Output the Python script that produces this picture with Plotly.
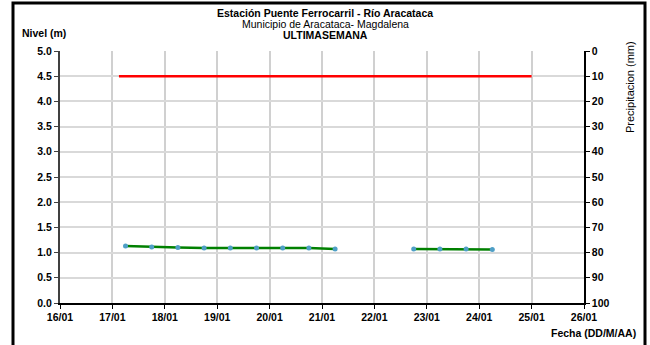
import plotly.graph_objects as go

# Data
nivel_fechas = ["2024-01-17 06:00", "2024-01-17 18:00", "2024-01-18 06:00", "2024-01-18 18:00",
                "2024-01-19 06:00", "2024-01-19 18:00", "2024-01-20 06:00", "2024-01-20 18:00",
                "2024-01-21 06:00", "2024-01-22 00:00", "2024-01-22 18:00", "2024-01-23 06:00",
                "2024-01-23 18:00", "2024-01-24 06:00"]
nivel_m = [1.13, 1.11, 1.10, 1.09, 1.09, 1.09, 1.09, 1.09, 1.07, None, 1.07, 1.07, 1.07, 1.06]

alerta_fechas = ["2024-01-17 03:00", "2024-01-25 00:00"]
alerta_m = [4.5, 4.5]

precip_fechas = []
precip_mm = []

x_ticks = ["2024-01-%02d" % d for d in range(16, 27)]
x_ticklabels = ["%02d/01" % d for d in range(16, 27)]

FONT = "Liberation Sans, Arial, sans-serif"

L, T, PW, PH = 60, 51, 524, 252

def px(x):
    return (x - 60) / PW

def py(y):
    return (303 - y) / PH

fig = go.Figure()
fig.add_trace(go.Scatter(x=alerta_fechas, y=alerta_m, mode="lines",
                         line=dict(color="#ff0000", width=2.5), showlegend=False))
fig.add_trace(go.Scatter(x=nivel_fechas, y=nivel_m, mode="lines+markers",
                         line=dict(color="#008000", width=2.5),
                         marker=dict(color="#4f9fc6", size=5),
                         connectgaps=False, showlegend=False))
fig.add_trace(go.Bar(x=precip_fechas, y=precip_mm, yaxis="y2",
                     marker_color="#4f81bd", showlegend=False))

tf = dict(family=FONT, size=10.5, color="black", weight="bold")


def note(text, x, y, size=10.5, xanchor="center", angle=0):
    return dict(text=text, x=px(x), y=py(y), xref="paper", yref="paper",
                xanchor=xanchor, yanchor="middle", textangle=angle,
                showarrow=False, font=dict(family=FONT, size=size, color="black"))


fig.update_layout(
    width=650, height=345,
    margin=dict(l=L, r=650 - L - PW, t=T, b=345 - T - PH, autoexpand=False),
    paper_bgcolor="white", plot_bgcolor="white",
    font=dict(family=FONT, size=10, color="black"),
    xaxis=dict(type="date", range=["2024-01-16", "2024-01-26"],
               tickvals=x_ticks, ticktext=x_ticklabels,
               showgrid=True, gridcolor="#d0d0d0", gridwidth=1.5,
               showline=True, linecolor="black", linewidth=1.5,
               ticks="outside", ticklen=4, tickcolor="black",
               tickfont=tf, zeroline=False),
    yaxis=dict(range=[0, 5], tickvals=[0, 0.5, 1, 1.5, 2, 2.5, 3, 3.5, 4, 4.5, 5],
               tickformat=".1f",
               showgrid=True, gridcolor="#d9d9d9", gridwidth=1.5,
               showline=True, linecolor="#404040", linewidth=2,
               ticks="outside", ticklen=4, tickcolor="#404040",
               tickfont=tf, zeroline=False),
    yaxis2=dict(range=[100, 0], overlaying="y", side="right",
                tickvals=list(range(0, 101, 10)),
                showgrid=False, showline=True, linecolor="black", linewidth=1.5,
                ticks="outside", ticklen=4, tickcolor="black",
                tickfont=tf, zeroline=False),
    shapes=[dict(type="rect", xref="paper", yref="paper",
                 x0=px(13), x1=px(645), y0=py(360), y1=py(3),
                 line=dict(color="black", width=3))],
    annotations=[
        note("<b>Estación Puente Ferrocarril - Río Aracataca</b>", 325, 13),
        note("Municipio de Aracataca- Magdalena", 325, 24),
        note("<b>ULTIMASEMANA</b>", 325, 35),
        note("<b>Nivel (m)</b>", 20, 33, xanchor="left"),
        note("Precipitacion (mm)", 630, 87, size=11, angle=-90),
        note("<b>Fecha (DD/M/AA)</b>", 638, 333, xanchor="right"),
    ],
)

fig.write_html("out.html",
               config={"displayModeBar": False},
               post_script="document.body.style.margin='0';document.body.style.overflow='hidden';")
